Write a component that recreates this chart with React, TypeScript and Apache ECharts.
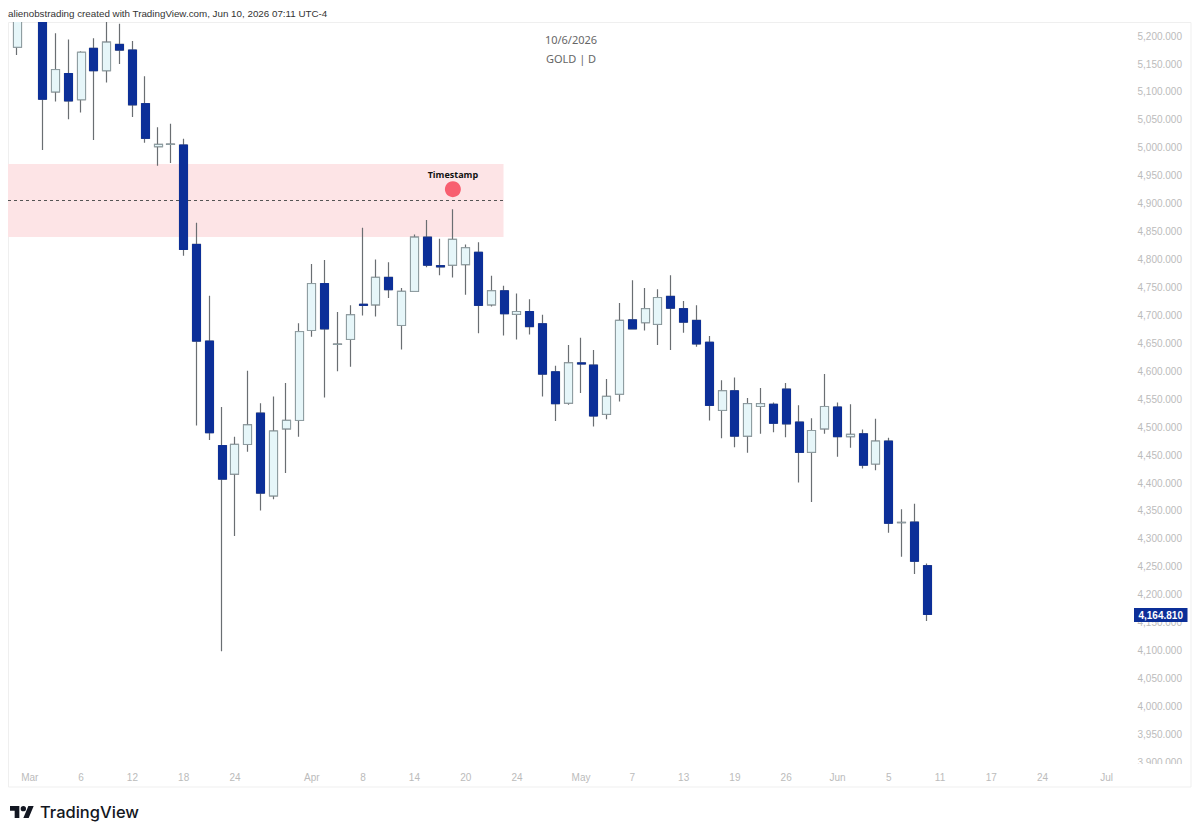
import React, { useEffect, useRef } from "react";
import * as echarts from "echarts";

const categories = [
  "Feb 27","Mar 2","Mar 3","Mar 4","Mar 5","Mar 6","Mar 9","Mar 10","Mar 11","Mar 12","Mar 13","Mar 16","Mar 17","Mar 18","Mar 19","Mar 20","Mar 23","Mar 24","Mar 25","Mar 26","Mar 27","Mar 30","Mar 31",
  "Apr 1","Apr 2","Apr 6","Apr 7","Apr 8","Apr 9","Apr 10","Apr 13","Apr 14","Apr 15","Apr 16","Apr 17","Apr 20","Apr 21","Apr 22","Apr 23","Apr 24","Apr 27","Apr 28","Apr 29","Apr 30",
  "May 1","May 4","May 5","May 6","May 7","May 8","May 11","May 12","May 13","May 14","May 15","May 18","May 19","May 20","May 21","May 22","May 26","May 27","May 28","May 29",
  "Jun 1","Jun 2","Jun 3","Jun 4","Jun 5","Jun 8","Jun 9","Jun 10","Jun 11","Jun 12","Jun 15","Jun 16","Jun 17","Jun 18","Jun 22","Jun 23","Jun 24","Jun 25","Jun 26","Jun 29","Jun 30",
  "Jul 1","Jul 2","Jul 6","Jul 7","Jul 8","Jul 9","Jul 10",
];
const tickLabels: Record<string, string> = {
  "Mar 2":"Mar","Mar 6":"6","Mar 12":"12","Mar 18":"18","Mar 24":"24","Apr 1":"Apr","Apr 8":"8","Apr 14":"14","Apr 20":"20","Apr 24":"24",
  "May 1":"May","May 7":"7","May 13":"13","May 19":"19","May 26":"26","Jun 1":"Jun","Jun 5":"5","Jun 11":"11","Jun 17":"17","Jun 24":"24","Jul 1":"Jul",
};

const opens = [5180,5330,5290,5100,5133,5086,5178,5138,5185,5175,5079,5002,5006,5005,4827,4654,4467,4416,4469,4525,4377,4497,4512,4673,4757,4648,4657,4720,4719,4768,4682,4743,4840,4789,4790,4791,4813,4719,4744,4702,4707,4685,4599,4543,4615,4611,4523,4559,4692,4687,4684,4734,4712,4691,4652,4530,4565,4484,4537,4541,4568,4509,4455,4497,4536,4483,4488,4434,4475,4329,4330,4252];
const closes = [5240,5290,5087,5140,5084,5171,5138,5189,5175,5077,5017,5006,5006.5,4818,4654,4490,4407,4469,4504,4382,4493,4512,4671,4757,4676,4648.5,4701,4718,4768,4746,4743,4840,4790,4787,4836,4821,4718,4744,4703,4707,4680,4595,4542,4615,4613,4520,4555,4691,4676,4712,4732,4713,4688,4649,4539,4565,4484,4542,4542,4507,4506,4455,4494,4537,4483,4487,4432,4475,4328,4329.5,4260,4164.81];
const lows = [5166,5240,4996,5083,5051,5063,5014,5117,5150,5055,5009,4968,4973,4807,4503,4477,4099,4305,4456,4351,4371,4418,4483,4662,4553,4600,4608,4700,4698,4731,4639,4742,4786,4772,4768,4737,4668,4716,4664,4657,4666,4555,4511,4540,4561,4501,4514,4546,4676,4673,4647,4638,4669,4644,4512,4480,4464,4454,4488,4491,4482,4401,4366,4488,4447,4463,4426,4423,4311,4268,4237,4153];
const highs = [5260,5350,5310,5205,5194,5173,5196,5232,5222,5191,5128,5037,5043,5016,4866,4735,4536,4483,4601,4543,4555,4579,4686,4792,4799,4706,4718,4857,4800,4795,4749,4845,4871,4837,4890,4827,4831,4771,4753,4739,4729,4701,4610,4647,4660,4638,4586,4722,4763,4749,4747,4772,4726,4718,4663,4584,4589,4552,4570,4544,4579,4539,4516,4595,4544,4541,4496,4515,4481,4353,4363,4256];

const timestampPoint = [34, 4926];
const zoneTop = 4971;
const zoneBottom = 4840.4;
const zoneMid = 4905.6;
const lastPrice = "4,164.810";

const SANS = "'Liberation Sans', sans-serif";

echarts.graphic.registerShape(
  "tvLogo",
  echarts.graphic.extendPath(
    "M14 22H7V11H0V4h14v18zM28 22h-8l7.5-18h8L28 22zM24 8a4 4 0 1 1-8 0 4 4 0 0 1 8 0z",
    {}
  )
);

export default function App() {
  const ref = useRef<HTMLDivElement>(null);
  useEffect(() => {
    document.body.style.margin = "0";
    const chart = echarts.init(ref.current!, undefined, { renderer: "svg" });
    const wickData = opens.map((o, i) => [o, closes[i], lows[i], highs[i]]);
    const bodyData = opens.map((o, i) => [o, closes[i], Math.min(o, closes[i]), Math.max(o, closes[i])]);
    const bullFill = "#E6F6F9";
    const bearFill = "#0C2F98";
    chart.setOption({
      animation: false,
      backgroundColor: "#ffffff",
      grid: { left: 10.6, right: 10, top: 22.1, bottom: 45.7, containLabel: false },
      xAxis: {
        type: "category",
        data: categories,
        boundaryGap: true,
        axisLine: { show: false },
        axisTick: { show: false },
        splitLine: { show: false },
        axisLabel: {
          inside: true,
          margin: 8,
          interval: (_i: number, v: string) => v in tickLabels,
          formatter: (v: string) => tickLabels[v] ?? "",
          color: "#bbbbbb",
          fontSize: 10,
          fontFamily: SANS,
        },
      },
      yAxis: {
        type: "value",
        position: "right",
        min: 3850,
        max: 5225,
        interval: 50,
        scale: true,
        axisLine: { show: false },
        axisTick: { show: false },
        splitLine: { show: false },
        axisLabel: {
          inside: true,
          margin: 8,
          showMinLabel: false,
          showMaxLabel: false,
          color: "#bbbbbb",
          fontSize: 10,
          fontFamily: SANS,
          formatter: (v: number) =>
            v.toLocaleString("en-US", { minimumFractionDigits: 3, maximumFractionDigits: 3 }),
        },
      },
      series: [
        {
          type: "candlestick",
          name: "GOLD wicks",
          data: wickData,
          barWidth: 8.5,
          clip: true,
          z: 2,
          itemStyle: {
            color: bullFill,
            color0: bearFill,
            borderColor: "#6a6e72",
            borderColor0: "#6a6e72",
            borderWidth: 1.2,
          },
          markArea: {
            silent: true,
            z: 1,
            itemStyle: { color: "#FDE4E6" },
            data: [[{ x: 8, yAxis: zoneTop }, { x: 503.5, yAxis: zoneBottom }]],
          },
          markLine: {
            silent: true,
            z: 1,
            symbol: "none",
            label: { show: false },
            lineStyle: { color: "#555555", type: [3, 3], width: 1 },
            data: [[{ x: 8, yAxis: zoneMid }, { x: 503.5, yAxis: zoneMid }]],
          },
        },
        {
          type: "candlestick",
          name: "GOLD",
          data: bodyData,
          barWidth: 8.5,
          clip: true,
          z: 3,
          itemStyle: {
            color: bullFill,
            color0: bearFill,
            borderColor: "#8f9ea2",
            borderColor0: bearFill,
            borderWidth: 1,
          },
        },
        {
          type: "scatter",
          name: "Timestamp",
          data: [timestampPoint],
          symbol: "circle",
          symbolSize: 16,
          z: 4,
          itemStyle: { color: "#F85F70", opacity: 1 },
          label: {
            show: true,
            position: "top",
            distance: 2,
            formatter: "Timestamp",
            color: "#111111",
            fontSize: 9,
            fontWeight: "bold",
            fontFamily: "'Open Sans', sans-serif",
          },
        },
      ],
      graphic: [
        {
          type: "rect",
          z: 40,
          silent: true,
          shape: { x: 0, y: 0, width: 1200, height: 22 },
          style: { fill: "#ffffff" },
        },
        {
          type: "rect",
          z: -10,
          silent: true,
          shape: { x: 8.5, y: 22.5, width: 1182.5, height: 764.5 },
          style: { fill: "none", stroke: "#efefef", lineWidth: 1 },
        },
        {
          type: "rect",
          z: 50,
          silent: true,
          shape: { x: 1130, y: 764, width: 58, height: 6 },
          style: { fill: "#ffffff" },
        },
        {
          type: "text",
          z: 41,
          x: 8,
          y: 13,
          style: {
            text: "alienobstrading created with TradingView.com, Jun 10, 2026 07:11 UTC-4",
            fill: "#333333",
            fontSize: 9.8,
            fontFamily: SANS,
            verticalAlign: "middle",
            align: "left",
          },
        },
        {
          type: "text",
          x: 571,
          y: 39,
          style: { text: "10/6/2026", fill: "#666666", fontSize: 11, fontFamily: "'Noto Sans', sans-serif", align: "center", verticalAlign: "middle" },
        },
        {
          type: "text",
          x: 571,
          y: 58.5,
          style: { text: "GOLD | D", fill: "#666666", fontSize: 11, fontFamily: "'Noto Sans', sans-serif", align: "center", verticalAlign: "middle" },
        },
        {
          type: "rect",
          z: 60,
          silent: true,
          shape: { x: 1134, y: 608, width: 53.5, height: 14 },
          style: { fill: bearFill },
        },
        {
          type: "text",
          z: 61,
          x: 1160.7,
          y: 615,
          style: { text: lastPrice, fill: "#ffffff", fontSize: 10, fontWeight: "bold", fontFamily: SANS, align: "center", verticalAlign: "middle" },
        },
        {
          type: "tvLogo",
          x: 10,
          y: 803.3,
          scaleX: 0.667,
          scaleY: 0.667,
          style: { fill: "#131722" },
        },
        {
          type: "text",
          x: 40,
          y: 812,
          style: { text: "TradingView", fill: "#131722", fontSize: 16.5, fontWeight: 500, fontFamily: "Inter, sans-serif", align: "left", verticalAlign: "middle" },
        },
      ],
    });
    return () => chart.dispose();
  }, []);
  return <div ref={ref} style={{ width: 1200, height: 836 }} />;
}
